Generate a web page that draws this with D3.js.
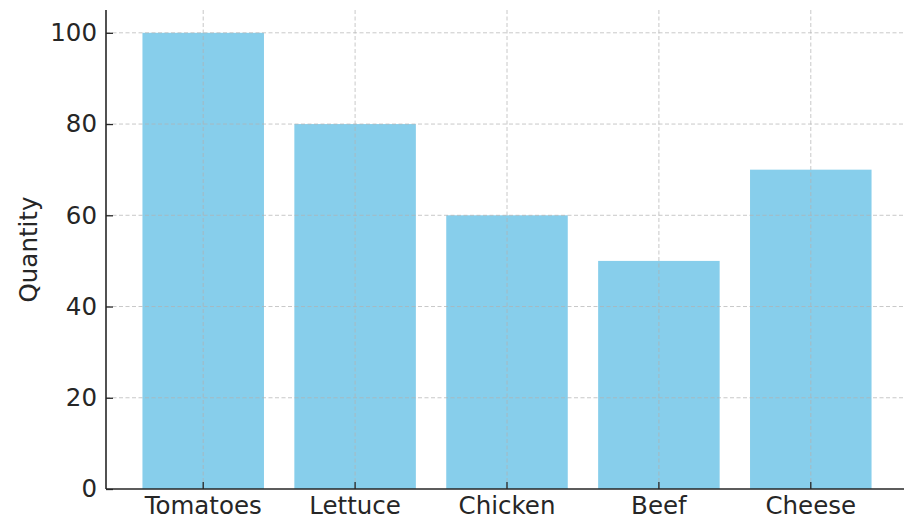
<!DOCTYPE html>
<html>
<head>
<meta charset="utf-8">
<script src="https://cdn.jsdelivr.net/npm/d3@7"></script>
<style>
  html, body { margin: 0; padding: 0; background: #fff; }
  svg { display: block; font-family: "DejaVu Sans", sans-serif; }
</style>
</head>
<body>
<svg id="chart" width="904" height="523"></svg>
<script>
const categories = ['Tomatoes', 'Lettuce', 'Chicken', 'Beef', 'Cheese'];
const quantities = [100, 80, 60, 50, 70];
const yTicks = [0, 20, 40, 60, 80, 100];

const ink = '#262626';
const fontSize = '24.5px';
const plotLeft = 106, plotRight = 908, plotTop = 10, plotBottom = 489;

const svg = d3.select('#chart');

const x = d3.scaleBand()
    .domain(categories)
    .range([plotLeft, plotRight])
    .paddingInner(0.2)
    .paddingOuter(0.24);

const y = d3.scaleLinear()
    .domain([0, 105])
    .range([plotBottom, plotTop]);

// bars
svg.append('g')
    .selectAll('rect')
    .data(categories)
    .join('rect')
    .attr('x', d => x(d))
    .attr('y', (d, i) => y(quantities[i]))
    .attr('width', x.bandwidth())
    .attr('height', (d, i) => y(0) - y(quantities[i]))
    .attr('fill', '#87ceeb');

// grid, drawn over the bars
const grid = svg.append('g')
    .attr('stroke', '#b0b0b0')
    .attr('stroke-opacity', 0.7)
    .attr('stroke-width', 1)
    .attr('stroke-dasharray', '4,2.5');

grid.selectAll('.hg')
    .data(yTicks.slice(1))
    .join('line')
    .attr('x1', plotLeft).attr('x2', plotRight)
    .attr('y1', d => y(d)).attr('y2', d => y(d));

grid.selectAll('.vg')
    .data(categories)
    .join('line')
    .attr('x1', d => x(d) + x.bandwidth() / 2)
    .attr('x2', d => x(d) + x.bandwidth() / 2)
    .attr('y1', plotTop).attr('y2', plotBottom);

// axes, ticks pointing inward
const yAxis = svg.append('g')
    .attr('transform', `translate(${plotLeft},0)`)
    .call(d3.axisLeft(y).tickValues(yTicks).tickSize(-7).tickPadding(9));

const xAxis = svg.append('g')
    .attr('transform', `translate(0,${plotBottom})`)
    .call(d3.axisBottom(x).tickSize(-7).tickPadding(8).tickSizeOuter(0));

yAxis.select('.domain').attr('d', `M0,${plotTop}V${plotBottom}`);
xAxis.select('.domain').attr('d', `M${plotLeft},0H${plotRight}`);

[yAxis, xAxis].forEach(g => {
    g.attr('font-family', null).attr('font-size', null);
    g.select('.domain').attr('stroke', ink).attr('stroke-width', 1.6);
    g.selectAll('.tick line').attr('stroke', ink).attr('stroke-width', 1.3);
    g.selectAll('.tick text')
        .attr('fill', ink)
        .style('font-size', fontSize);
});

// axis title
svg.append('text')
    .attr('transform', `translate(37,${(plotTop + plotBottom) / 2 + 0}) rotate(-90)`)
    .attr('text-anchor', 'middle')
    .attr('fill', ink)
    .style('font-size', fontSize)
    .text('Quantity');
</script>
</body>
</html>
